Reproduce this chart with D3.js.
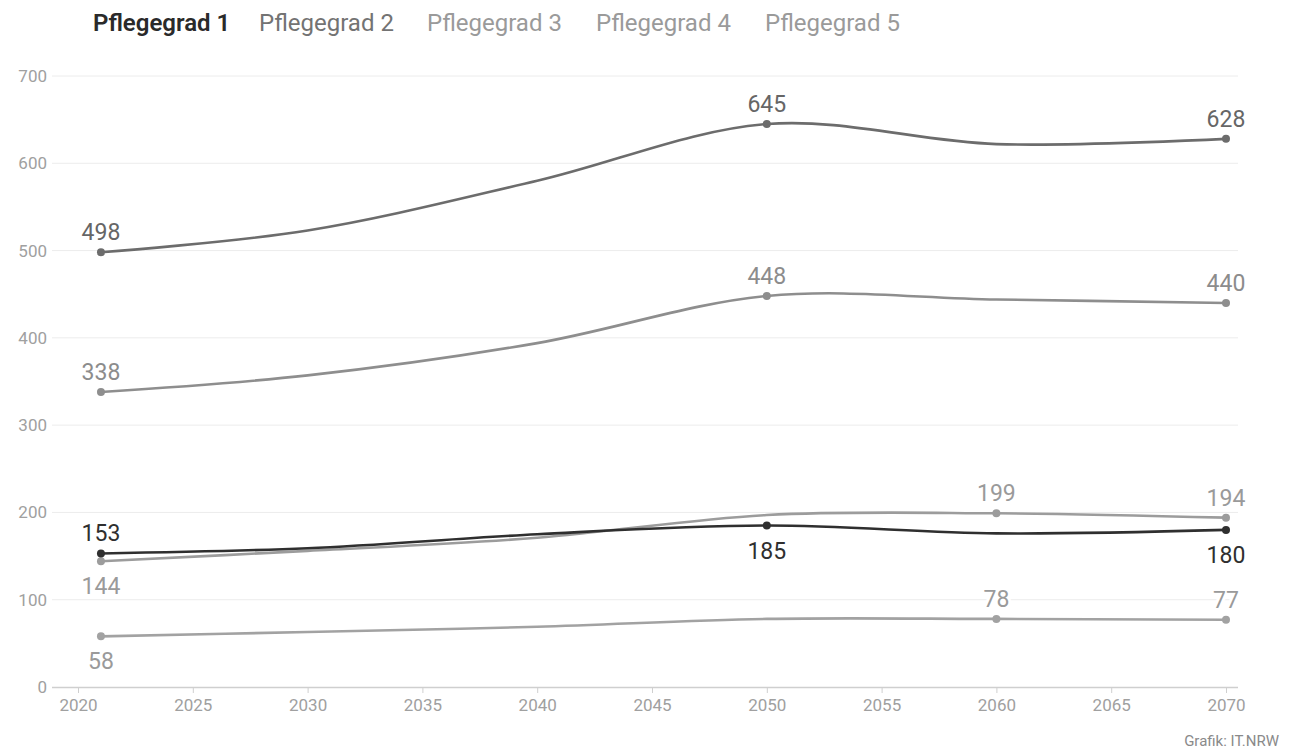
<!DOCTYPE html>
<html><head><meta charset="utf-8">
<script src="https://cdn.jsdelivr.net/npm/d3@7"></script>
<style>
body{margin:0;background:#fff;}
svg{display:block;font-family:"Roboto","Noto Sans",sans-serif;}
</style></head>
<body><svg id="c" width="1297" height="752"></svg>
<script>
const years = [2021, 2030, 2040, 2050, 2060, 2070];
const seriesNames = ["Pflegegrad 1","Pflegegrad 2","Pflegegrad 3","Pflegegrad 4","Pflegegrad 5"];
const pg1 = [153, 159, 175, 185, 176, 180];
const pg2 = [498, 523, 580, 645, 622, 628];
const pg3 = [338, 357, 394, 448, 444, 440];
const pg4 = [144, 156, 171, 197, 199, 194];
const pg5 = [58, 63, 69, 78, 78, 77];
// labelled points: year index -> position ("a" above, "b" below)
const lab1 = {0:"a", 3:"b", 5:"b"};
const lab2 = {0:"a", 3:"a", 5:"a"};
const lab3 = {0:"a", 3:"a", 5:"a"};
const lab4 = {0:"b", 4:"a", 5:"a"};
const lab5 = {0:"b", 4:"a", 5:"a"};
const yTicks = [0,100,200,300,400,500,600,700];
const xTicks = [2020,2025,2030,2035,2040,2045,2050,2055,2060,2065,2070];
const source = "Grafik: IT.NRW";

const lineColors = ["#2f2f2f","#6c6c6c","#8e8e8e","#9c9c9c","#a2a2a2"];
const legendColors = ["#2a2a2a","#737373","#9a9a9a","#9a9a9a","#9a9a9a"];
const labelColors = ["#2f2f2f","#666666","#8c8c8c","#9a9a9a","#9a9a9a"];

const data = [pg1,pg2,pg3,pg4,pg5];
const labs = [lab1,lab2,lab3,lab4,lab5];

const svg = d3.select("#c");
const x = d3.scaleLinear().domain([2020,2070]).range([78,1226]);
const y = d3.scaleLinear().domain([0,700]).range([687,76]);

// gridlines
svg.append("g").selectAll("line").data(yTicks.filter(d=>d>0)).join("line")
  .attr("x1",52).attr("x2",1238).attr("y1",d=>y(d)).attr("y2",d=>y(d))
  .attr("stroke","#ececec").attr("stroke-width",1);
// y labels
svg.append("g").selectAll("text").data(yTicks).join("text")
  .attr("x",47).attr("y",d=>y(d)).attr("dy","0.35em").attr("text-anchor","end")
  .attr("fill","#a0a0a0").attr("font-size",17).text(d=>d);
// x axis
const xa = svg.append("g").attr("transform","translate(0,687)")
  .call(d3.axisBottom(x).tickValues(xTicks).tickFormat(d3.format("d")).tickSize(6).tickPadding(6));
xa.select(".domain").attr("stroke","#cfcfcf").attr("stroke-width",1.5).attr("d","M52,0.5H1238");
xa.selectAll(".tick line").attr("stroke","#cfcfcf");
xa.selectAll(".tick text").attr("fill","#a0a0a0").attr("font-size",17)
  .attr("font-family","Roboto,'Noto Sans',sans-serif");

const line = d3.line().x((d,i)=>x(years[i])).y(d=>y(d)).curve(d3.curveCatmullRom.alpha(0.5));

// draw lines in reverse so P1 is on top
const order = [4,3,2,1,0];
order.forEach(s=>{
  svg.append("path").datum(data[s]).attr("d",line)
    .attr("fill","none").attr("stroke",lineColors[s]).attr("stroke-width",2.6);
});
order.forEach(s=>{
  const pts = Object.keys(labs[s]).map(k=>+k);
  svg.append("g").selectAll("circle").data(pts).join("circle")
    .attr("cx",i=>x(years[i])).attr("cy",i=>y(data[s][i])).attr("r",4)
    .attr("fill",lineColors[s]);
  svg.append("g").selectAll("text").data(pts).join("text")
    .attr("x",i=>x(years[i]))
    .attr("y",i=>y(data[s][i]) + (labs[s][i]==="a" ? -12 : 33))
    .attr("text-anchor","middle").attr("font-size",23)
    .attr("fill",labelColors[s])
    .attr("stroke","#fff").attr("stroke-width",6).attr("paint-order","stroke")
    .attr("stroke-linejoin","round")
    .text(i=>data[s][i]);
});

// legend
const legX = [93,259,427,596,765];
svg.append("g").selectAll("text").data(seriesNames).join("text")
  .attr("x",(d,i)=>legX[i]).attr("y",31)
  .attr("font-size",24).attr("font-weight",(d,i)=>i===0?600:400)
  .attr("fill",(d,i)=>legendColors[i]).text(d=>d);

svg.append("text").attr("x",1279).attr("y",746).attr("text-anchor","end")
  .attr("font-size",15).attr("fill","#8a8a8a").text(source);
</script></body></html>
